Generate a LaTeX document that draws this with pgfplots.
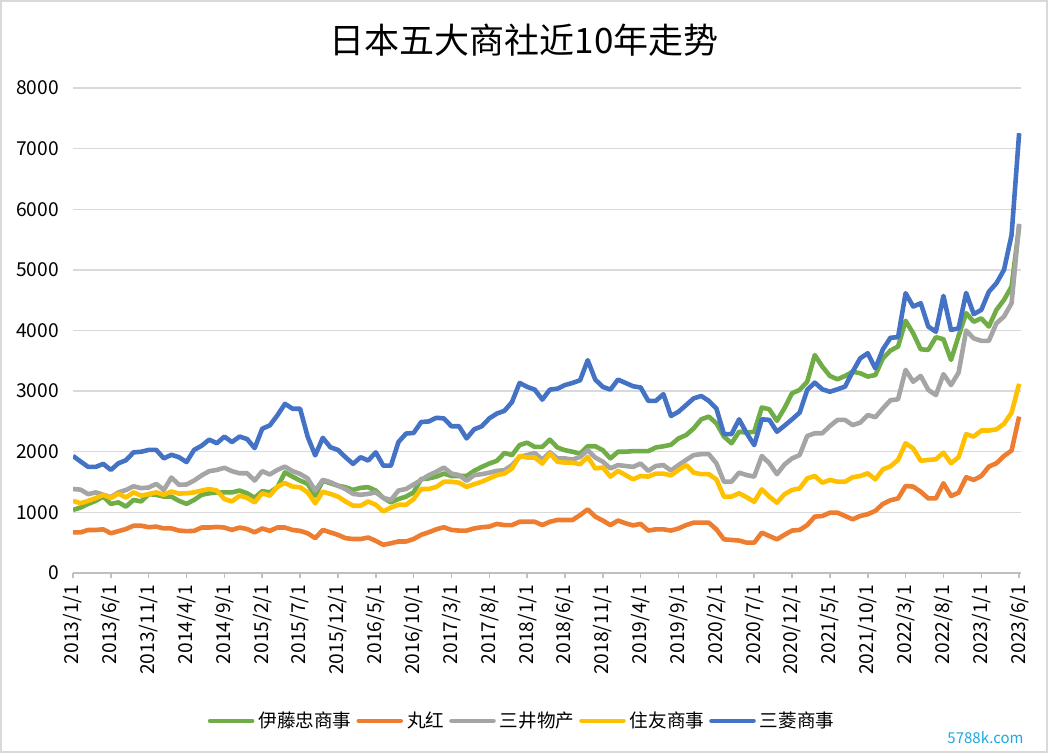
\documentclass[border=0pt]{standalone}
\usepackage{pgfplots}
\pgfplotsset{compat=1.18}
\usepackage{pgfplotstable}
\usepackage{fontspec}
\setmainfont{Noto Sans CJK SC}

\definecolor{cG}{HTML}{70AD47}
\definecolor{cO}{HTML}{ED7D31}
\definecolor{cA}{HTML}{A5A5A5}
\definecolor{cY}{HTML}{FFC000}
\definecolor{cB}{HTML}{4472C4}
\definecolor{gridc}{HTML}{D9D9D9}
\definecolor{axisc}{HTML}{BFBFBF}
\definecolor{wmc}{HTML}{1EA7E1}

% monthly, 2013/1 .. 2023/6 (i = month index)
\pgfplotstableread{
i   G     O     A     Y     B
0   1040  670   1385  1190  1930
1   1080  670   1375  1150  1840
2   1140  710   1300  1190  1750
3   1190  710   1330  1235  1750
4   1260  720   1290  1290  1800
5   1140  655   1250  1235  1700
6   1165  690   1330  1310  1810
7   1095  725   1370  1245  1860
8   1205  780   1430  1330  1990
9   1180  780   1400  1275  2000
10  1300  755   1410  1300  2030
11  1290  765   1470  1330  2030
12  1260  735   1370  1290  1890
13  1260  735   1575  1345  1950
14  1190  700   1455  1310  1910
15  1140  690   1460  1315  1830
16  1205  695   1525  1330  2030
17  1290  750   1610  1360  2100
18  1315  750   1680  1385  2200
19  1330  760   1700  1360  2140
20  1330  750   1735  1220  2250
21  1330  710   1680  1180  2160
22  1360  750   1645  1275  2250
23  1315  725   1645  1240  2210
24  1240  670   1525  1165  2060
25  1350  735   1680  1315  2380
26  1330  695   1625  1275  2435
27  1415  750   1700  1425  2600
28  1660  750   1755  1485  2790
29  1590  710   1680  1425  2710
30  1525  695   1635  1415  2710
31  1470  655   1560  1330  2250
32  1275  575   1360  1150  1940
33  1525  710   1535  1340  2230
34  1480  670   1500  1305  2075
35  1440  630   1440  1260  2030
36  1415  575   1385  1180  1910
37  1370  560   1305  1110  1800
38  1405  560   1290  1110  1910
39  1415  585   1305  1180  1855
40  1360  530   1330  1125  1990
41  1240  465   1240  1015  1770
42  1165  490   1205  1080  1770
43  1220  520   1360  1125  2160
44  1260  520   1385  1125  2300
45  1330  560   1460  1220  2310
46  1550  630   1535  1385  2490
47  1560  672   1612  1385  2500
48  1590  720   1670  1420  2560
49  1640  755   1740  1505  2550
50  1600  710   1640  1505  2420
51  1600  700   1615  1490  2420
52  1600  700   1520  1420  2220
53  1685  735   1615  1465  2370
54  1750  755   1630  1505  2420
55  1805  765   1655  1560  2550
56  1850  810   1685  1615  2630
57  1980  790   1695  1640  2675
58  1945  790   1780  1725  2820
59  2110  845   1915  1930  3135
60  2150  845   1945  1905  3070
61  2080  845   1980  1905  3025
62  2080  790   1870  1805  2860
63  2200  845   1990  1970  3025
64  2070  875   1890  1835  3040
65  2025  875   1890  1820  3100
66  2000  875   1870  1820  3135
67  1970  955   1915  1795  3180
68  2090  1050  2025  1915  3510
69  2090  930   1905  1725  3190
70  2025  865   1835  1740  3070
71  1890  790   1725  1590  3025
72  2000  865   1780  1685  3190
73  2000  820   1765  1615  3135
74  2010  785   1750  1545  3080
75  2010  810   1805  1600  3060
76  2010  700   1685  1590  2840
77  2070  720   1765  1640  2840
78  2090  720   1780  1640  2950
79  2115  700   1690  1610  2590
80  2220  735   1780  1700  2660
81  2275  790   1865  1780  2770
82  2385  830   1945  1655  2880
83  2535  830   1960  1630  2920
84  2580  830   1960  1630  2840
85  2470  720   1810  1545  2715
86  2250  555   1505  1260  2290
87  2140  545   1505  1260  2290
88  2330  535   1655  1315  2535
89  2315  500   1615  1250  2305
90  2330  500   1590  1175  2110
91  2730  665   1930  1380  2535
92  2700  610   1810  1260  2525
93  2510  555   1630  1160  2330
94  2720  630   1790  1300  2430
95  2965  700   1890  1370  2535
96  3020  710   1945  1395  2645
97  3155  790   2260  1560  3020
98  3595  930   2305  1600  3140
99  3405  940   2305  1490  3030
100 3250  995   2425  1535  2990
101 3195  995   2525  1505  3030
102 3250  940   2525  1505  3075
103 3320  885   2440  1580  3320
104 3295  940   2480  1600  3540
105 3240  970   2605  1645  3625
106 3265  1025  2570  1545  3375
107 3540  1140  2715  1710  3690
108 3670  1200  2850  1760  3880
109 3735  1230  2865  1865  3890
110 4160  1435  3350  2140  4615
111 3955  1425  3155  2055  4395
112 3690  1340  3250  1850  4450
113 3680  1230  3020  1865  4065
114 3890  1230  2935  1875  3980
115 3855  1480  3280  1985  4570
116 3515  1270  3100  1810  4010
117 3910  1325  3305  1910  4035
118 4285  1580  4000  2290  4620
119 4145  1535  3870  2250  4270
120 4200  1600  3830  2350  4340
121 4065  1755  3830  2350  4640
122 4340  1810  4120  2370  4780
123 4505  1930  4230  2460  5000
124 4725  2020  4450  2645  5575
125 5720  2580  5760  3120  7255
}\data

\begin{document}
\begin{tikzpicture}
\useasboundingbox (0,0) rectangle (524pt,376.5pt);
\draw[gridc, line width=0.75pt] (0.4pt,0.4pt) rectangle (523.6pt,376.1pt);
\node[font=\fontsize{17.5}{21}\selectfont] at (262pt,356.5pt) {日本五大商社近10年走势};
\begin{axis}[
    at={(36.5pt,90pt)}, anchor=south west,
    scale only axis, width=474.2pt, height=242.5pt,
    xmin=0, xmax=125.3, ymin=0, ymax=8000,
    xtick={0,5,...,125},
    xticklabels={2013/1/1,2013/6/1,2013/11/1,2014/4/1,2014/9/1,2015/2/1,2015/7/1,2015/12/1,2016/5/1,2016/10/1,2017/3/1,2017/8/1,2018/1/1,2018/6/1,2018/11/1,2019/4/1,2019/9/1,2020/2/1,2020/7/1,2020/12/1,2021/5/1,2021/10/1,2022/3/1,2022/8/1,2023/1/1,2023/6/1},
    ytick={0,1000,...,8000},
    scaled y ticks=false,
    axis x line*=bottom, axis y line*=left,
    y axis line style={draw=none},
    x axis line style={axisc, line width=0.75pt, -},
    ymajorgrids, grid style={gridc, line width=0.75pt},
    tick align=outside, major tick length=2.5pt,
    ytick style={draw=none},
    xtick style={axisc, line width=0.75pt},
    tick label style={font=\fontsize{9.6}{11}\selectfont},
    /pgf/number format/assume math mode=true,
    yticklabel style={/pgf/number format/1000 sep={}, xshift=-1pt},
    xticklabel style={rotate=90, anchor=east},
    legend columns=5,
    legend style={at={(0.4745,-0.305)}, anchor=center, draw=none, fill=none,
        font=\fontsize{9.3}{11}\selectfont, inner sep=0pt,
        /tikz/every even column/.append style={column sep=0.5pt}},
    legend image code/.code={\draw[#1, line cap=round] (0pt,0pt) -- (21pt,0pt);},
    every axis plot/.append style={line width=2.3pt, line join=round},
]
\addplot[cG] table[x=i, y=G] {\data};
\addplot[cO] table[x=i, y=O] {\data};
\addplot[cA] table[x=i, y=A] {\data};
\addplot[cY] table[x=i, y=Y] {\data};
\addplot[cB] table[x=i, y=B] {\data};
\legend{伊藤忠商事,丸红,三井物产,住友商事,三菱商事}
\end{axis}
\node[font=\fontsize{7.5}{9}\selectfont, text=wmc] at (492.75pt,7.5pt) {5788k.com};
\end{tikzpicture}
\end{document}
